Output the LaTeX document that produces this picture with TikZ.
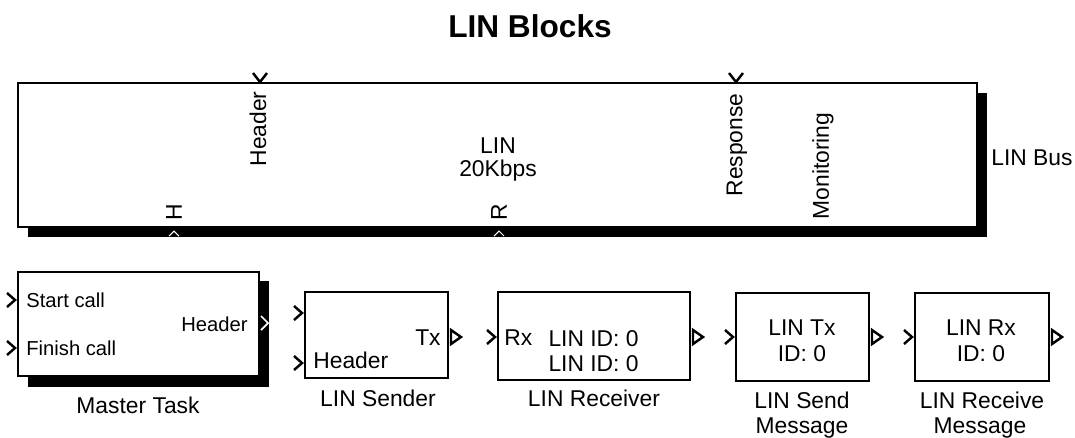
\documentclass[tikz,border=0pt]{standalone}
\usepackage{fontspec}
\setmainfont{Liberation Sans}
\usepackage{tikz}

\begin{document}
\begin{tikzpicture}[x=0.02cm,y=-0.02cm,
  blk/.style={line width=1.5pt, fill=white},
  shade/.style={fill=black},
  pin/.style={line width=1.4pt},
  txt/.style={font=\fontsize{13}{15}\selectfont, inner sep=0pt},
  mini/.style={font=\fontsize{11.5}{13}\selectfont, inner sep=0pt}]
\useasboundingbox (0,0) rectangle (1075,437);
\node[font=\fontsize{18}{20}\selectfont\bfseries, inner sep=0pt, anchor=base] (title) at (530,37) {LIN Blocks};
% LIN bus block
\fill[shade] (28,93) rectangle (987,237);
\draw[blk] (18,83) rectangle (977,227);
\draw[pin] (253,73) -- (260,82) -- (267,73);
\draw[pin] (729,73) -- (736,82) -- (743,73);
\draw[white, line width=0.6pt] (169,236) -- (174,231) -- (179,236);
\draw[white, line width=0.6pt] (494,236) -- (499,231) -- (504,236);
\node[txt, rotate=90] (hdrin) at (258,129) {Header};
\node[txt, rotate=90] (rspin) at (737,145) {Response};
\node[txt, rotate=90] (monout) at (823,166) {Monitoring};
\node[txt, rotate=90] (hin) at (174,212) {H};
\node[txt, rotate=90] (rin) at (499,212) {R};
\node[txt, anchor=base] (linname) at (498,153) {LIN};
\node[txt, anchor=base] (linrate) at (498,176) {20Kbps};
\node[txt, anchor=base west] (busname) at (991,165) {LIN Bus};
% Master Task
\fill[shade] (28,281) rectangle (269,387);
\draw[blk] (18,272) rectangle (259,376);
\draw[pin] (7,293) -- (15,300) -- (7,307);
\draw[pin] (7,341) -- (15,348) -- (7,355);
\draw[white, line width=1pt] (261,316) -- (268,323) -- (261,330);
\node[mini, anchor=base west] (start) at (26,307) {Start call};
\node[mini, anchor=base west] (finish) at (26,355) {Finish call};
\node[mini, anchor=base east] (mthdr) at (248,331) {Header};
\node[txt, anchor=base] (mtask) at (138,413) {Master Task};
% LIN Sender
\draw[blk] (305,292) rectangle (448,378);
\draw[pin] (294,306) -- (302,313) -- (294,320);
\draw[pin] (294,356) -- (302,363) -- (294,370);
\draw[pin] (451,330) -- (461,337) -- (451,344) -- cycle;
\node[txt, anchor=base west] (sndhdr) at (313,368) {Header};
\node[txt, anchor=base east] (sndtx) at (441,345) {Tx};
\node[txt, anchor=base] (sender) at (378,406) {LIN Sender};
% LIN Receiver
\draw[blk] (498,292) rectangle (690,380);
\draw[pin] (487,330) -- (495,337) -- (487,344);
\draw[pin] (693,330) -- (703,337) -- (693,344) -- cycle;
\node[txt, anchor=base west] (rcvrx) at (504,345) {Rx};
\node[txt, anchor=base east] (rcvid) at (639,346) {LIN ID: 0};
\node[txt, anchor=base east] (rcvidb) at (639,371) {LIN ID: 0};
\node[txt, anchor=base] (receiver) at (594,406) {LIN Receiver};
% LIN Send Message
\draw[blk] (736,293) rectangle (869,381);
\draw[pin] (725,330) -- (733,337) -- (725,344);
\draw[pin] (872,330) -- (882,337) -- (872,344) -- cycle;
\node[txt, anchor=base] (txmsg) at (802,335) {LIN Tx};
\node[txt, anchor=base] (txid) at (802,361) {ID: 0};
\node[txt, anchor=base] (sendmsg) at (802,408) {LIN Send};
\node[txt, anchor=base] (sendmsgb) at (802,433) {Message};
% LIN Receive Message
\draw[blk] (915,293) rectangle (1049,381);
\draw[pin] (904,330) -- (912,337) -- (904,344);
\draw[pin] (1052,330) -- (1062,337) -- (1052,344) -- cycle;
\node[txt, anchor=base] (rxmsg) at (981,335) {LIN Rx};
\node[txt, anchor=base] (rxid) at (981,361) {ID: 0};
\node[txt, anchor=base] (recvmsg) at (982,408) {LIN Receive};
\node[txt, anchor=base] (recvmsgb) at (980,433) {Message};
\end{tikzpicture}
\end{document}
